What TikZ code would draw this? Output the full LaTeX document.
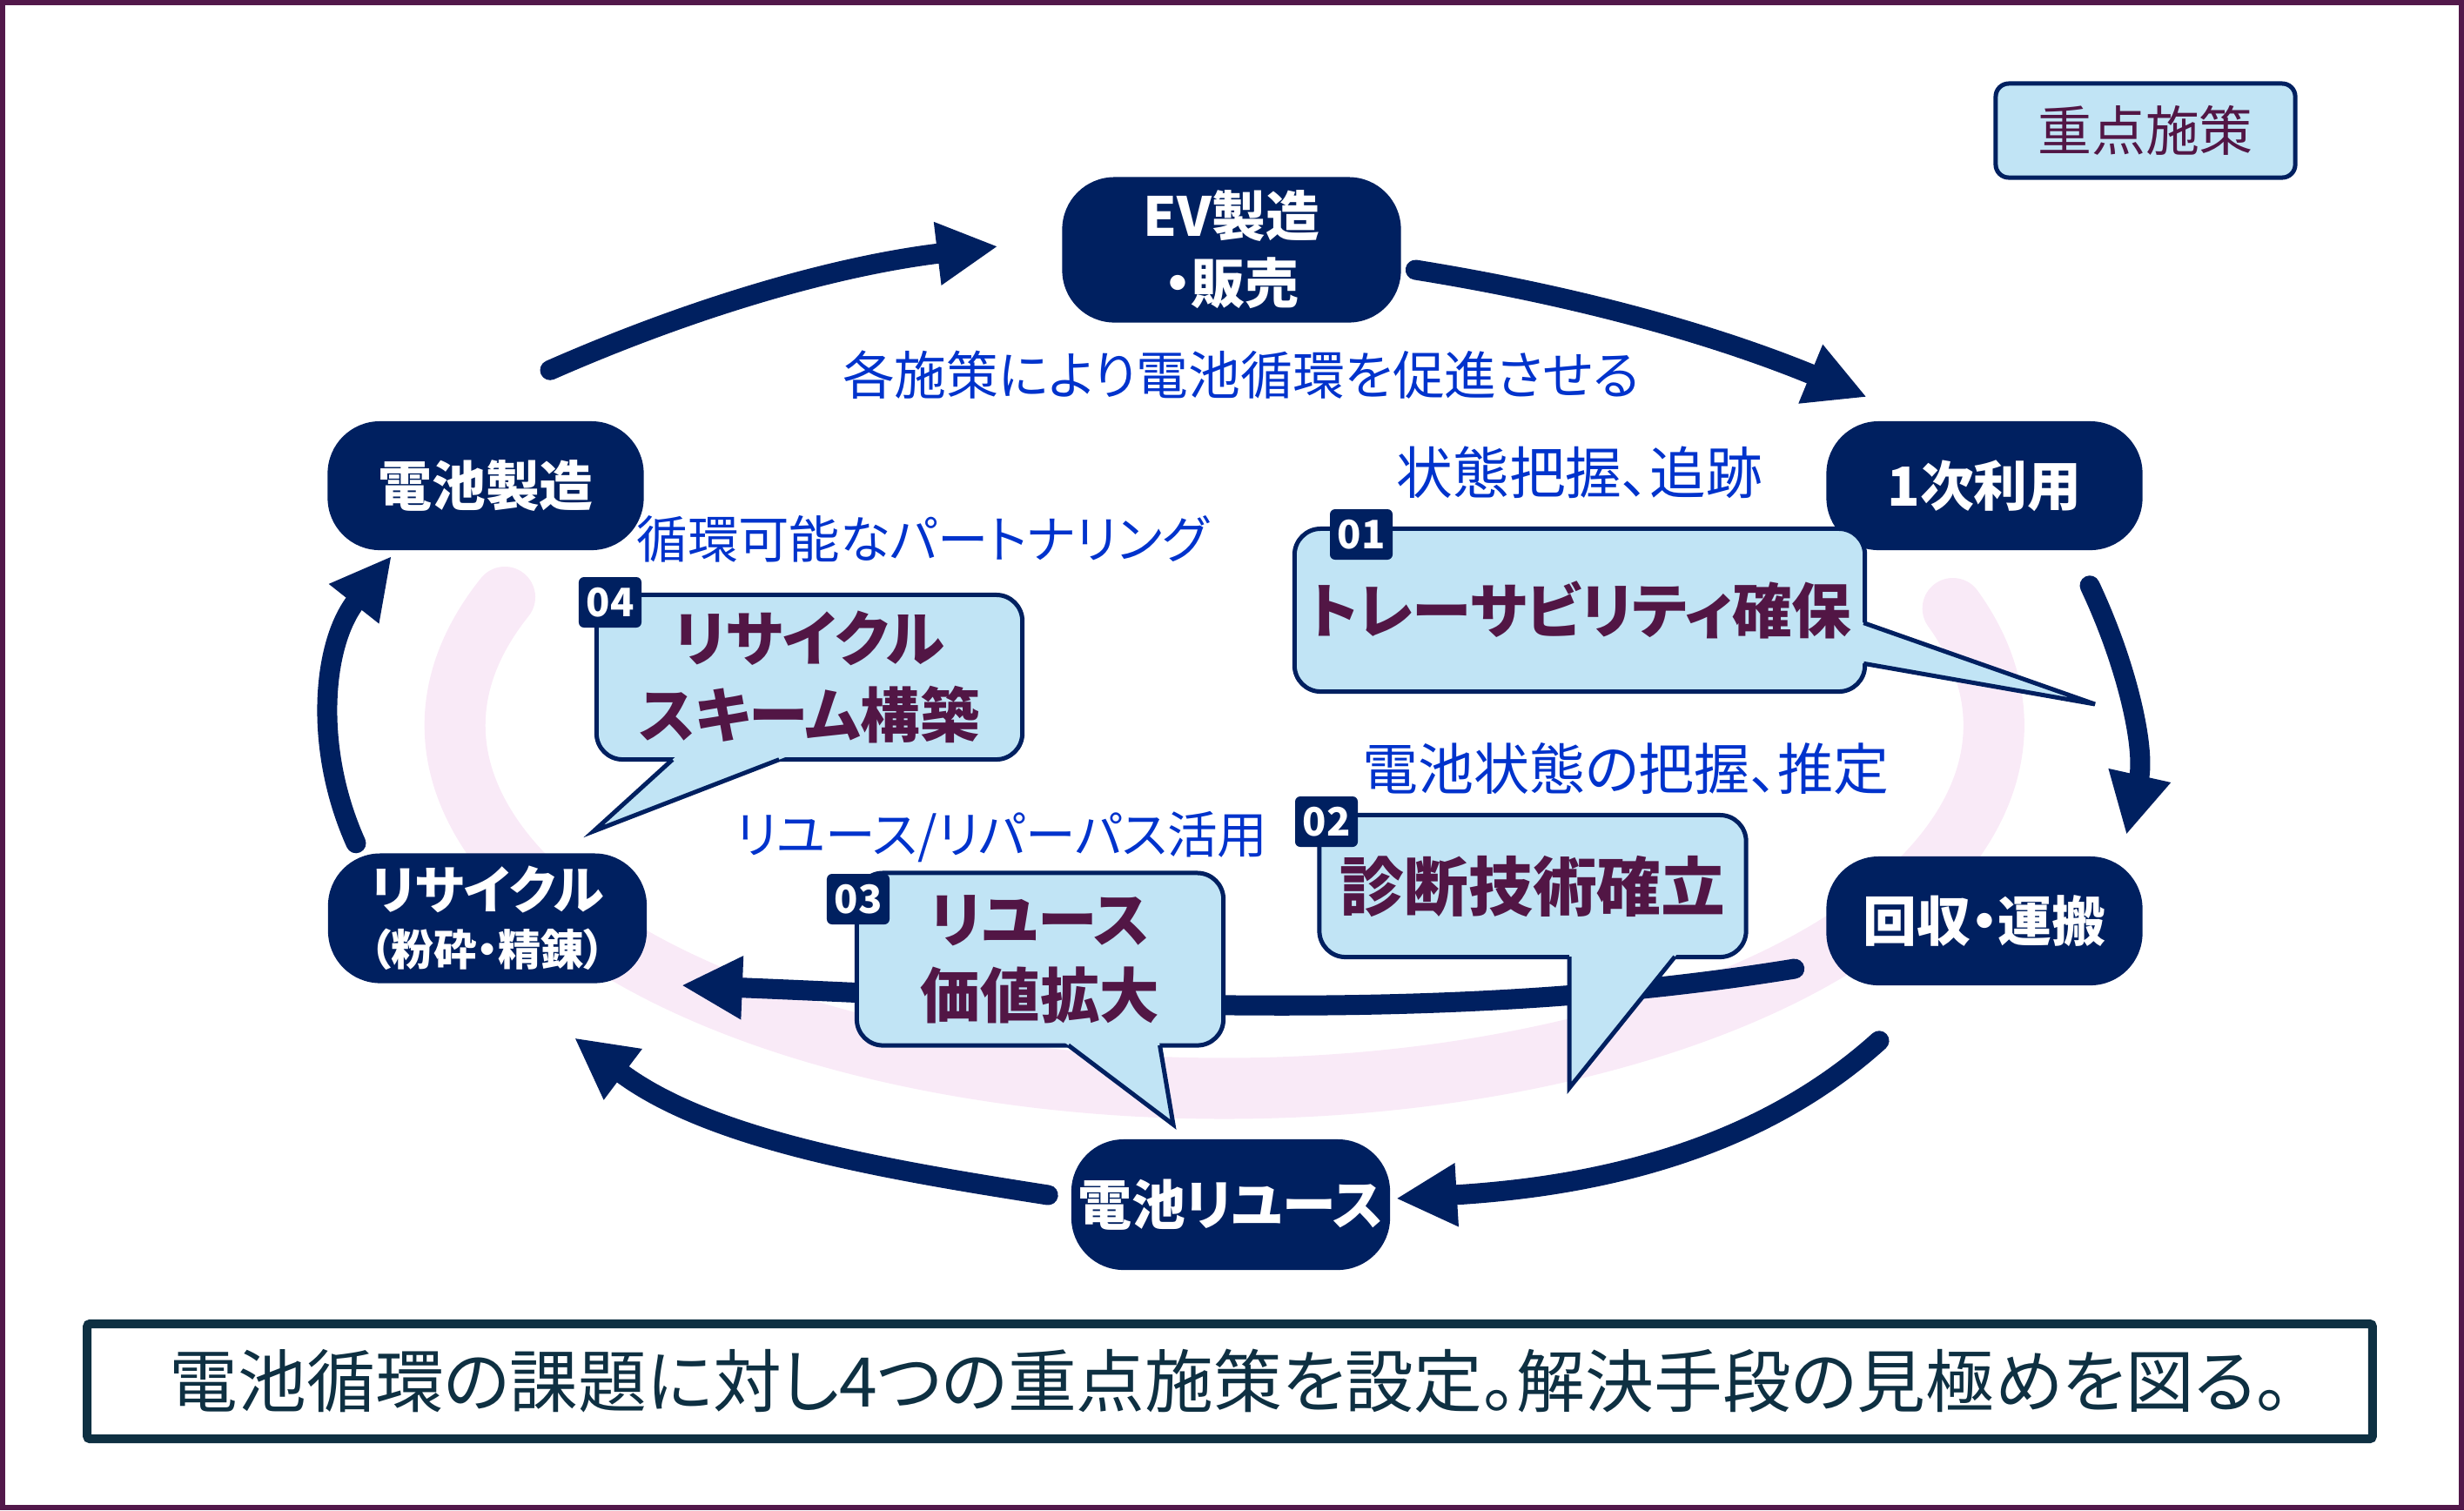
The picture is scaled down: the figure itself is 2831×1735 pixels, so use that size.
\documentclass[tikz,border=0pt]{standalone}
\usepackage{fontspec}
\setmainfont{Noto Sans CJK JP}[RawFeature=+palt]
\usepackage{tikz}
\usetikzlibrary{arrows.meta,positioning,calc}
\definecolor{navy}{HTML}{002060}
\definecolor{callbg}{HTML}{C1E4F5}
\definecolor{callink}{HTML}{521645}
\definecolor{noteblue}{HTML}{0033CC}
\definecolor{ringpink}{HTML}{F9EAF7}
\definecolor{framepurple}{HTML}{52184A}
\definecolor{sumteal}{HTML}{0E3042}

\begin{document}
\begin{tikzpicture}[x=0.01cm, y=-0.01cm,
  stage/.style={fill=navy, text=white, rounded corners=0.6cm,
    minimum width=3.63cm, minimum height=1.48cm, align=center,
    inner sep=0pt, font=\bfseries\fontsize{17.6}{21.9}\selectfont},
  flow/.style={draw=navy, line width=0.23cm, line cap=round,
    -{Triangle[length=0.7cm, width=0.68cm]}},
  callout/.style={draw=navy, line width=0.05cm, fill=callbg,
    rounded corners=0.3cm, text=callink, align=center, inner sep=0pt,
    font=\bfseries\fontsize{19.5}{24.8}\selectfont},
  tailfill/.style={fill=callbg},
  tailline/.style={draw=navy, line width=0.05cm},
  badge/.style={fill=navy, rounded corners=0.06cm, text=white,
    minimum width=0.72cm, minimum height=0.58cm, inner sep=0pt,
    font=\bfseries\fontsize{12.8}{14}\selectfont},
  note/.style={text=noteblue, inner sep=0pt,
    font=\fontsize{17.6}{20}\selectfont}
]
\useasboundingbox (0,0) rectangle (2831,1735);

% Frame
\draw[framepurple, line width=0.06cm] (3,3) rectangle (2828,1732);

% Background ring
\draw[ringpink, line width=0.7cm, line cap=round] (580,686)
  arc[start angle=200.7, end angle=-18.8, x radius=884, y radius=417];

% Cycle stages
\node[stage, minimum width=3.89cm, minimum height=1.67cm] (ev) at (1415,287) {EV製造\\・販売};
\node[stage] (bm) at (558,558) {電池製造};
\node[stage] (use1) at (2280,558) {1次利用};
\node[stage] (col) at (2280,1058) {回収・運搬};
\node[stage, minimum width=3.66cm, minimum height=1.50cm] (reuse) at (1414,1384) {電池リユース};
\node[stage, minimum width=3.66cm, minimum height=1.49cm,
  font=\bfseries\fontsize{16.8}{18.5}\selectfont] (rec) at (560,1055)
  {リサイクル\\{\fontsize{14}{15}\selectfont（粉砕・精錬）}};

% Arrows
\draw[flow] ($(bm.north)+(74,-58)$) .. controls (801,351) and (963,305) .. ($(ev.west)+(-73,-4)$);
\draw[flow] ($(ev.east)+(16,23)$) .. controls (1813,340) and (1969,384) .. ($(use1.north)+(-135,-27)$);
\draw[flow] ($(use1.south)+(121,40)$) .. controls (2445,766) and (2465,861) .. ($(col.north)+(163,-24)$);
\draw[flow] ($(col.south)+(-121,63)$) .. controls (2005,1335) and (1801,1365) .. ($(reuse.east)+(6,-7)$);
\draw[flow] ($(reuse.west)+(-26,-11)$) .. controls (1012,1343) and (815,1309) .. ($(rec.south east)+(-84,62)$);
\draw[flow] ($(rec.north)+(-151,-11)$) .. controls (360,860) and (370,740) .. ($(bm.south)+(-108,6)$);
\draw[flow] ($(col.west)+(-36,55)$) .. controls (1638,1182) and (1212,1149) .. ($(rec.east)+(39,77)$);

% Callout 01
\node[callout, minimum width=6.55cm, minimum height=1.87cm] (c01) at (1815,701) {トレーサビリティ確保};
\coordinate (t01a) at ($(c01.east)+(0,16)$);
\coordinate (t01b) at ($(c01.east)+(0,62)$);
\coordinate (t01) at (2407,809);
\fill[tailfill] ($(t01)!1.06!(t01a)$) -- (t01) -- ($(t01)!1.06!(t01b)$) -- cycle;
\draw[tailline] ($(t01)!1.015!(t01a)$) -- (t01) -- ($(t01)!1.015!(t01b)$);

% Callout 02
\node[callout, minimum width=4.90cm, minimum height=1.63cm,
  font=\bfseries\fontsize{21}{24.8}\selectfont] (c02) at (1761,1018) {診断技術確立};
\coordinate (t02a) at ($(c02.south)+(42,0)$);
\coordinate (t02b) at ($(c02.south)+(161,0)$);
\coordinate (t02) at (1803,1250);
\fill[tailfill] ($(t02)!1.06!(t02a)$) -- (t02) -- ($(t02)!1.06!(t02b)$) -- cycle;
\draw[tailline] ($(t02)!1.02!(t02a)$) -- (t02) -- ($(t02)!1.02!(t02b)$);

% Callout 03
\node[callout, minimum width=4.21cm, minimum height=1.98cm] (c03) at (1195,1102) {リユース\\価値拡大};
\coordinate (t03a) at ($(c03.south)+(36,0)$);
\coordinate (t03b) at ($(c03.south)+(138,0)$);
\coordinate (t03) at (1348,1292);
\fill[tailfill] ($(t03)!1.08!(t03a)$) -- (t03) -- ($(t03)!1.08!(t03b)$) -- cycle;
\draw[tailline] ($(t03)!1.03!(t03a)$) -- (t03) -- ($(t03)!1.03!(t03b)$);

% Callout 04
\node[callout, minimum width=4.89cm, minimum height=1.89cm] (c04) at (930,778) {リサイクル\\スキーム構築};
\coordinate (t04a) at ($(c04.south)+(-160,0)$);
\coordinate (t04b) at ($(c04.south)+(-41,0)$);
\coordinate (t04) at (682,955);
\fill[tailfill] ($(t04)!1.08!(t04a)$) -- (t04) -- ($(t04)!1.08!(t04b)$) -- cycle;
\draw[tailline] ($(t04)!1.03!(t04a)$) -- (t04) -- ($(t04)!1.03!(t04b)$);

% Badges
\node[badge] (b01) at (1564,614) {01};
\node[badge] (b02) at (1524,944) {02};
\node[badge] (b03) at (986,1033) {03};
\node[badge] (b04) at (701,692) {04};

% Notes
\node[note, font=\fontsize{17}{20}\selectfont] (n0) at (1426,431) {各施策により電池循環を促進させる};
\node[note, font=\fontsize{18.4}{20}\selectfont] (n1) at (1815,543) {状態把握、追跡};
\node[note, font=\fontsize{16.6}{20}\selectfont] (n4) at (1060,619) {循環可能なパートナリング};
\node[note, font=\fontsize{18.2}{20}\selectfont] (n2) at (1868,883) {電池状態の把握、推定};
\node[note, font=\fontsize{16.4}{20}\selectfont] (n3) at (1151,962) {リユース/リパーパス活用};

% Legend
\node[draw=navy, line width=0.05cm, fill=callbg, rounded corners=0.15cm,
  minimum width=3.44cm, minimum height=1.08cm, text=callink,
  font=\fontsize{17.6}{20}\selectfont] (key) at (2465,150) {重点施策};

% Summary
\node[draw=sumteal, line width=0.1cm, rounded corners=0.03cm,
  minimum width=26.24cm, minimum height=1.32cm, text=sumteal,
  font=\fontsize{22.4}{24}\selectfont] (sum) at (1413,1587)
  {電池循環の課題に対し4つの重点施策を設定。解決手段の見極めを図る。};

\end{tikzpicture}
\end{document}
